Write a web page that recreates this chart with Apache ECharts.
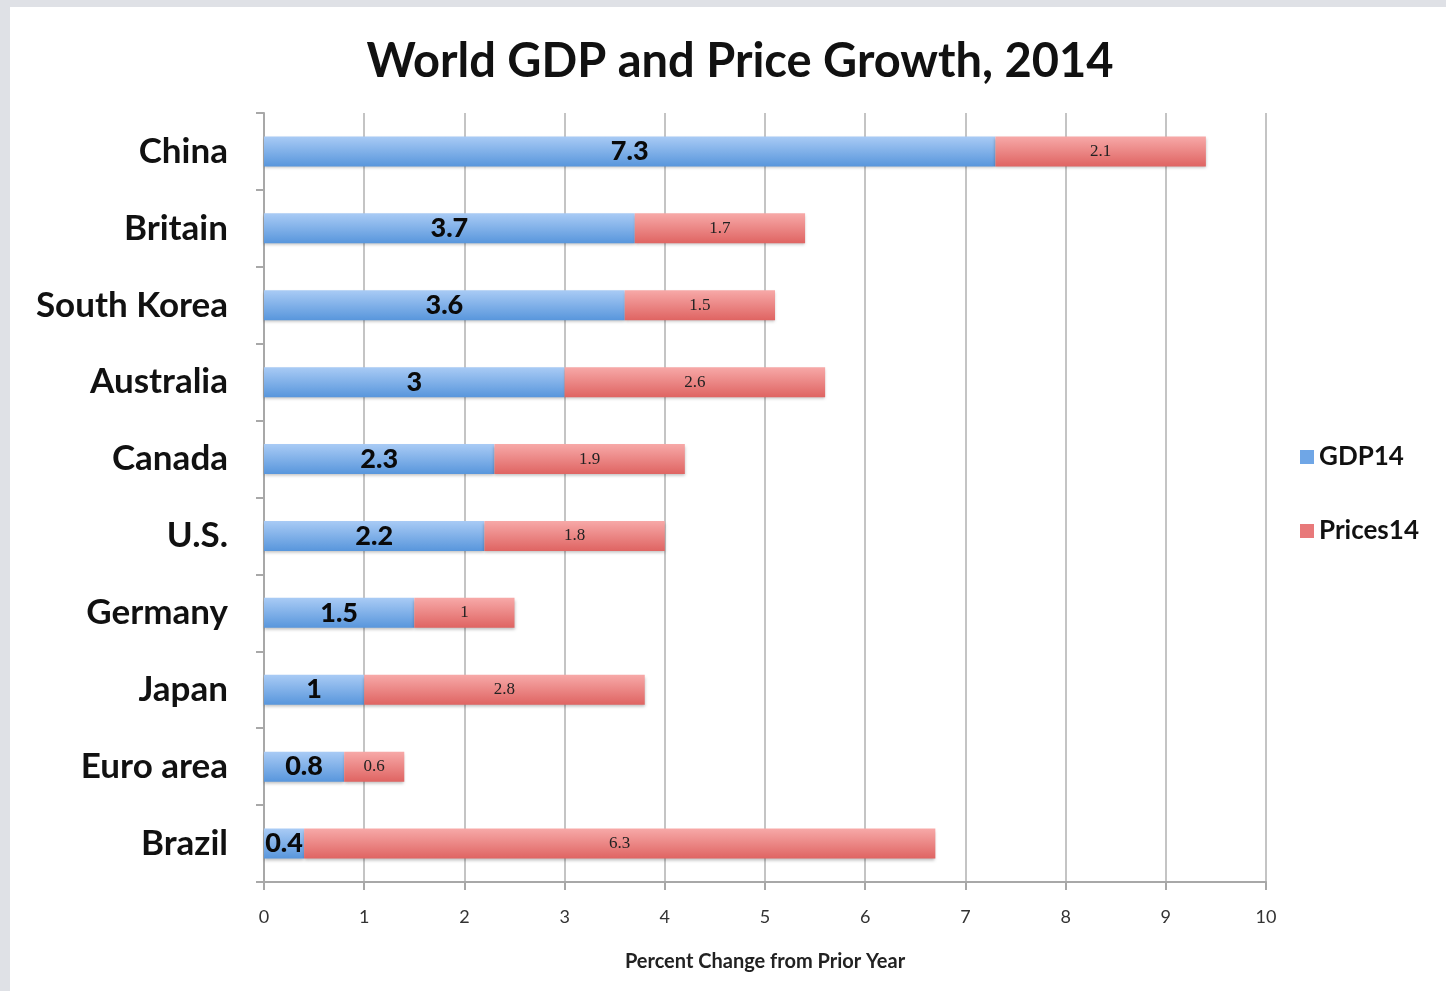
<!DOCTYPE html>
<html>
<head>
<meta charset="utf-8">
<script src="https://cdn.jsdelivr.net/npm/echarts@6/dist/echarts.min.js"></script>
<style>
  html, body { margin: 0; padding: 0; background: #dfe1e6; width: 1446px; height: 991px; overflow: hidden; }
  #chart { position: absolute; left: 10px; top: 7px; width: 1436px; height: 984px; background: #ffffff; }
</style>
</head>
<body>
<div id="chart"></div>
<script>
const categories = ['China', 'Britain', 'South Korea', 'Australia', 'Canada', 'U.S.', 'Germany', 'Japan', 'Euro area', 'Brazil'];
const gdp14 = [7.3, 3.7, 3.6, 3, 2.3, 2.2, 1.5, 1, 0.8, 0.4];
const prices14 = [2.1, 1.7, 1.5, 2.6, 1.9, 1.8, 1, 2.8, 0.6, 6.3];
const xTicks = [0, 1, 2, 3, 4, 5, 6, 7, 8, 9, 10];

const FONT = 'Lato, "Open Sans", sans-serif';
const chart = echarts.init(document.getElementById('chart'), null, { renderer: 'canvas' });

const blueGrad = new echarts.graphic.LinearGradient(0, 0, 0, 1, [
  { offset: 0, color: '#a9cbf5' },
  { offset: 1, color: '#5896dc' }
]);
const redGrad = new echarts.graphic.LinearGradient(0, 0, 0, 1, [
  { offset: 0, color: '#f7a9a8' },
  { offset: 1, color: '#df6462' }
]);

chart.setOption({
  animation: false,
  title: {
    text: 'World GDP and Price Growth, 2014',
    left: 725, top: 26, textAlign: 'center',
    textStyle: { fontFamily: FONT, fontSize: 47, fontWeight: 'bold', color: '#111' }
  },
  legend: {
    orient: 'vertical',
    left: 1285, top: 432,
    itemWidth: 14, itemHeight: 14, itemGap: 48,
    icon: 'rect',
    textStyle: { fontFamily: FONT, fontSize: 26, fontWeight: 'bold', color: '#111' },
    data: [
      { name: 'GDP14', itemStyle: { color: '#6fa6e6' } },
      { name: 'Prices14', itemStyle: { color: '#e8797a' } }
    ]
  },
  grid: { left: 254, top: 106, right: 180, bottom: 109, containLabel: false },
  xAxis: {
    type: 'value', min: 0, max: 10, interval: 1,
    name: 'Percent Change from Prior Year',
    nameLocation: 'middle', nameGap: 70,
    nameTextStyle: { fontFamily: FONT, fontSize: 20, fontWeight: 'bold', color: '#222' },
    axisLine: { show: true, lineStyle: { color: '#a8a8a8', width: 2 } },
    axisTick: { show: true, length: 8, lineStyle: { color: '#a8a8a8', width: 2 } },
    axisLabel: { fontFamily: FONT, fontSize: 18, color: '#333', margin: 26,
      formatter: v => xTicks.includes(v) ? String(v) : '' },
    splitLine: { show: true, lineStyle: { color: '#c4c4c4', width: 2 } }
  },
  yAxis: {
    type: 'category', inverse: true, data: categories,
    axisLine: { show: true, lineStyle: { color: '#a8a8a8', width: 2 } },
    axisTick: { show: true, length: 8, lineStyle: { color: '#a8a8a8', width: 2 } },
    axisLabel: { fontFamily: FONT, fontSize: 35, fontWeight: 'bold', color: '#111', margin: 36, padding: [4, 0, 0, 0] },
    splitLine: { show: false }
  },
  series: [
    {
      name: 'GDP14', type: 'bar', stack: 'total', barWidth: 30,
      data: gdp14,
      itemStyle: { color: blueGrad, shadowColor: 'rgba(0,0,0,0.25)', shadowBlur: 3, shadowOffsetY: 2 },
      label: { show: true, position: 'inside', fontFamily: FONT, fontSize: 27, fontWeight: 900, color: '#0a0a0a', padding: [3, 0, 0, 0] }
    },
    {
      name: 'Prices14', type: 'bar', stack: 'total', barWidth: 30,
      data: prices14,
      itemStyle: { color: redGrad, shadowColor: 'rgba(0,0,0,0.25)', shadowBlur: 3, shadowOffsetY: 2 },
      label: { show: true, position: 'inside', fontFamily: '"Liberation Serif", serif', fontSize: 17, color: '#222', padding: [2, 0, 0, 0] }
    }
  ]
});
</script>
</body>
</html>
